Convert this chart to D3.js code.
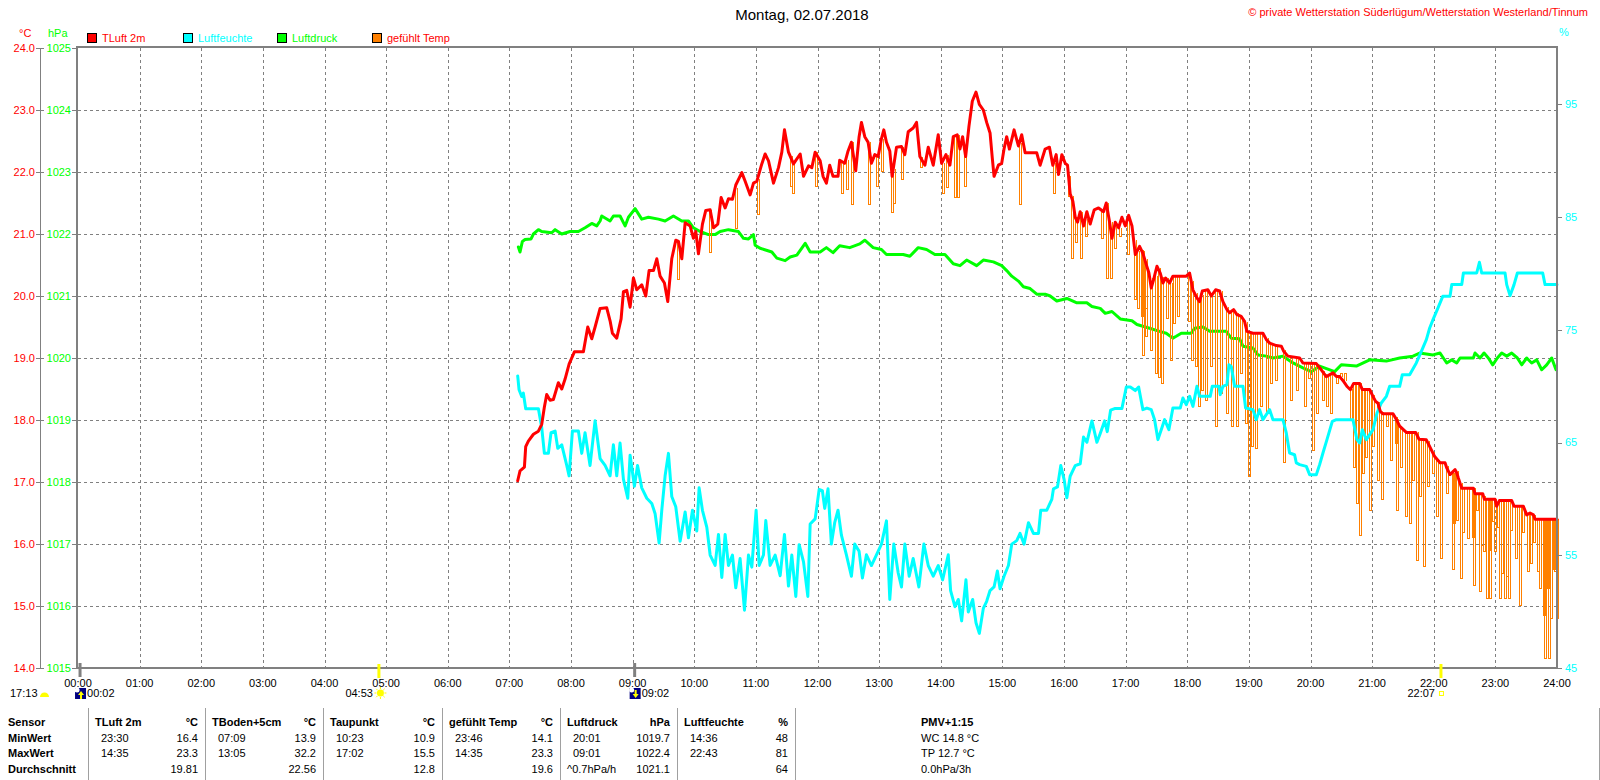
<!DOCTYPE html>
<html>
<head>
  <meta charset="utf-8">
  <script src="https://d3js.org/d3.v7.min.js"></script>
  <style>
    body { margin: 0; background: #fff; }
    svg text { font-family: "Liberation Sans", Arial, sans-serif; font-size: 11px; }
    .grid { stroke: #808080; stroke-width: 1; stroke-dasharray: 3,3; shape-rendering: crispEdges; }
    .frame { stroke: #808080; stroke-width: 2; fill: none; }
    .tick { stroke: #808080; stroke-width: 1; shape-rendering: crispEdges; }
    .sep { stroke: #a0a0a0; stroke-width: 1; shape-rendering: crispEdges; }
    .bold { font-weight: bold; }
    .series { fill: none; stroke-linejoin: round; stroke-linecap: round; }
  </style>
</head>
<body>
<script>
  "use strict";

  // ---- data (time in decimal hours) ----
  var hourLabels = ["00:00","01:00","02:00","03:00","04:00","05:00","06:00","07:00","08:00",
    "09:00","10:00","11:00","12:00","13:00","14:00","15:00","16:00","17:00","18:00",
    "19:00","20:00","21:00","22:00","23:00","24:00"];
  var tempTicks = [14, 15, 16, 17, 18, 19, 20, 21, 22, 23, 24];
  var pressTicks = [1015, 1016, 1017, 1018, 1019, 1020, 1021, 1022, 1023, 1024, 1025];
  var humTicks = [45, 55, 65, 75, 85, 95];

  // TLuft 2m (°C)
  var tLuft = [
    [7.135,17.02],[7.173,17.18],[7.244,17.24],[7.265,17.57],[7.308,17.66],[7.39,17.77],[7.471,17.82],
    [7.525,17.93],[7.568,18.21],[7.606,18.41],[7.66,18.32],[7.714,18.33],[7.795,18.6],[7.85,18.5],
    [7.904,18.66],[7.969,18.9],[8.055,19.1],[8.201,19.1],[8.272,19.5],[8.337,19.31],[8.391,19.5],
    [8.472,19.8],[8.58,19.81],[8.634,19.6],[8.672,19.4],[8.742,19.32],[8.813,19.63],[8.851,20.07],
    [8.905,20.09],[8.959,19.82],[9.013,20.29],[9.067,20.1],[9.148,20.18],[9.213,20.0],[9.267,20.41],
    [9.338,20.41],[9.392,20.6],[9.446,20.32],[9.516,20.21],[9.57,19.91],[9.635,20.6],[9.7,20.9],
    [9.744,20.88],[9.798,20.6],[9.852,21.18],[9.933,21.13],[9.987,20.93],[10.025,21.04],[10.068,20.68],
    [10.133,21.16],[10.187,21.38],[10.258,21.39],[10.312,21.1],[10.382,21.16],[10.436,21.59],[10.501,21.42],
    [10.555,21.57],[10.62,21.56],[10.674,21.79],[10.772,21.99],[10.826,21.85],[10.907,21.63],[10.961,21.82],
    [11.015,21.85],[11.096,22.13],[11.15,22.29],[11.205,22.18],[11.286,21.82],[11.367,22.07],[11.421,22.32],
    [11.464,22.68],[11.529,22.32],[11.61,22.13],[11.719,22.29],[11.773,21.93],[11.854,22.1],[11.908,22.07],
    [11.962,22.32],[12.043,22.18],[12.09,21.93],[12.144,21.82],[12.198,22.11],[12.252,21.93],[12.333,21.93],
    [12.36,22.19],[12.442,22.14],[12.496,22.34],[12.55,22.48],[12.62,22.02],[12.675,22.57],[12.713,22.8],
    [12.767,22.57],[12.821,22.48],[12.875,22.14],[12.93,22.28],[12.984,22.25],[13.038,22.54],[13.076,22.68],
    [13.119,22.48],[13.173,22.34],[13.211,21.93],[13.282,22.4],[13.363,22.41],[13.417,22.28],[13.472,22.65],
    [13.553,22.71],[13.607,22.8],[13.661,22.25],[13.743,22.11],[13.797,22.4],[13.878,22.11],[13.959,22.6],
    [14.014,22.14],[14.084,22.28],[14.149,22.11],[14.203,22.57],[14.268,22.6],[14.312,22.37],[14.355,22.57],
    [14.404,22.25],[14.458,22.74],[14.512,23.14],[14.572,23.29],[14.626,23.09],[14.691,23.0],[14.745,22.8],
    [14.8,22.63],[14.837,22.22],[14.865,21.93],[14.935,22.11],[14.989,22.14],[15.027,22.37],[15.07,22.57],
    [15.114,22.37],[15.19,22.68],[15.26,22.42],[15.314,22.6],[15.369,22.31],[15.45,22.31],[15.558,22.31],
    [15.612,22.11],[15.694,22.37],[15.764,22.4],[15.818,22.11],[15.873,22.28],[15.911,21.96],[15.965,22.28],
    [16.019,22.14],[16.057,22.11],[16.1,21.65],[16.144,21.53],[16.182,21.27],[16.22,21.19],[16.263,21.36],
    [16.317,21.13],[16.371,21.36],[16.425,21.16],[16.49,21.39],[16.561,21.42],[16.642,21.36],[16.686,21.5],
    [16.74,21.19],[16.778,20.93],[16.832,21.19],[16.886,21.1],[16.94,21.27],[16.995,21.13],[17.049,21.3],
    [17.103,21.13],[17.157,20.67],[17.226,20.8],[17.28,20.69],[17.334,20.51],[17.378,20.37],[17.416,20.13],
    [17.453,20.26],[17.508,20.48],[17.562,20.37],[17.605,20.21],[17.648,20.29],[17.713,20.21],[17.767,20.32],
    [17.876,20.32],[17.984,20.32],[18.038,20.37],[18.092,20.1],[18.157,19.97],[18.2,19.91],[18.244,20.08],
    [18.335,20.1],[18.39,20.0],[18.46,20.1],[18.525,20.08],[18.579,19.91],[18.644,19.78],[18.687,19.73],
    [18.752,19.78],[18.806,19.7],[18.877,19.67],[18.93,19.59],[18.969,19.43],[19.066,19.4],[19.228,19.4],
    [19.282,19.3],[19.337,19.24],[19.445,19.2],[19.526,19.19],[19.564,19.11],[19.634,19.03],[19.824,19.0],
    [19.877,18.92],[20.094,18.91],[20.175,18.81],[20.256,18.7],[20.365,18.76],[20.42,18.7],[20.473,18.7],
    [20.539,18.62],[20.593,18.54],[20.647,18.49],[20.7,18.59],[20.798,18.59],[20.841,18.49],[20.96,18.49],
    [21.014,18.38],[21.057,18.3],[21.095,18.27],[21.133,18.14],[21.176,18.1],[21.339,18.1],[21.393,18.01],
    [21.447,17.9],[21.555,17.8],[21.707,17.8],[21.761,17.69],[21.88,17.68],[21.945,17.55],[22.015,17.41],
    [22.102,17.31],[22.183,17.31],[22.21,17.23],[22.264,17.12],[22.346,17.2],[22.373,17.15],[22.4,17.06],
    [22.454,16.9],[22.643,16.9],[22.67,16.81],[22.795,16.81],[22.822,16.72],[22.995,16.72],[23.022,16.61],
    [23.065,16.7],[23.265,16.7],[23.303,16.61],[23.454,16.61],[23.508,16.47],[23.562,16.5],[23.617,16.47],
    [23.644,16.4],[24.0,16.4]
  ];

  // Luftfeuchte (%)
  var luftfeuchte = [
    [7.135,70.91],[7.157,69.69],[7.2,69.08],[7.227,69.38],[7.265,68.0],[7.471,68.0],[7.525,66.33],
    [7.568,64.04],[7.633,64.04],[7.676,65.87],[7.742,66.02],[7.785,64.49],[7.85,64.8],[7.931,62.97],
    [7.969,62.05],[8.023,66.02],[8.12,66.02],[8.174,64.04],[8.228,65.87],[8.309,62.97],[8.391,66.94],
    [8.472,63.58],[8.553,62.97],[8.634,62.05],[8.688,64.8],[8.742,62.05],[8.796,64.95],[8.851,61.74],
    [8.921,60.06],[8.959,63.88],[9.029,61.13],[9.08,62.97],[9.148,60.98],[9.23,60.06],[9.311,59.6],
    [9.365,58.69],[9.43,56.09],[9.473,58.99],[9.527,62.05],[9.581,64.04],[9.635,60.22],[9.7,59.3],
    [9.771,56.24],[9.852,58.84],[9.906,56.55],[9.971,58.99],[10.041,57.16],[10.079,60.98],[10.133,58.99],
    [10.204,57.47],[10.258,55.02],[10.339,54.1],[10.393,56.85],[10.447,53.03],[10.501,56.85],[10.555,54.1],
    [10.62,55.02],[10.674,52.12],[10.744,54.71],[10.815,50.13],[10.88,55.02],[10.934,53.95],[11.004,58.99],
    [11.053,54.1],[11.123,55.02],[11.161,58.08],[11.231,54.1],[11.313,55.02],[11.394,53.19],[11.464,56.85],
    [11.529,52.27],[11.583,55.02],[11.648,51.35],[11.702,55.94],[11.773,54.41],[11.843,51.35],[11.881,57.77],
    [11.962,58.23],[12.027,60.83],[12.079,60.74],[12.117,59.16],[12.171,60.9],[12.225,55.99],[12.279,57.89],
    [12.333,59.0],[12.388,56.78],[12.469,55.04],[12.55,53.14],[12.604,55.99],[12.675,55.35],[12.729,52.98],
    [12.794,55.04],[12.875,54.09],[12.957,55.04],[13.038,55.99],[13.119,58.05],[13.173,51.08],[13.238,55.99],
    [13.309,53.45],[13.363,52.19],[13.417,55.99],[13.488,53.14],[13.553,54.72],[13.645,52.19],[13.726,55.99],
    [13.797,54.09],[13.878,53.14],[13.959,54.09],[14.03,52.82],[14.122,55.04],[14.16,51.87],[14.23,50.44],
    [14.285,51.08],[14.339,49.18],[14.409,52.82],[14.447,49.97],[14.518,51.08],[14.572,49.02],[14.626,48.07],
    [14.691,50.29],[14.745,50.92],[14.8,51.87],[14.865,52.19],[14.919,53.61],[14.962,52.03],[15.027,53.14],
    [15.098,54.09],[15.152,55.99],[15.233,56.3],[15.287,56.94],[15.352,55.99],[15.423,57.89],[15.504,56.94],
    [15.586,56.94],[15.623,59.0],[15.721,59.0],[15.802,59.95],[15.829,60.9],[15.894,61.06],[15.948,62.96],
    [16.003,61.69],[16.046,60.11],[16.1,62.01],[16.182,62.96],[16.263,63.12],[16.317,65.49],[16.371,65.02],
    [16.453,66.92],[16.534,65.02],[16.588,65.81],[16.659,66.92],[16.702,65.97],[16.756,67.87],[16.832,68.03],
    [16.94,68.03],[17.011,69.93],[17.076,69.93],[17.157,69.61],[17.211,69.93],[17.28,67.92],[17.345,68.06],
    [17.416,67.92],[17.47,67.03],[17.524,65.26],[17.578,66.14],[17.632,67.03],[17.702,66.14],[17.767,68.06],
    [17.886,68.06],[17.929,68.95],[17.984,68.36],[18.038,69.1],[18.092,68.21],[18.157,69.99],[18.2,69.1],
    [18.373,69.1],[18.406,69.99],[18.514,69.99],[18.536,69.25],[18.579,69.99],[18.644,70.13],[18.676,71.91],
    [18.714,71.76],[18.768,69.99],[18.904,69.99],[18.947,68.06],[19.066,67.92],[19.12,67.03],[19.174,67.92],
    [19.228,67.03],[19.337,67.92],[19.391,67.03],[19.553,67.03],[19.607,65.85],[19.661,64.07],[19.742,63.92],
    [19.77,63.19],[19.824,63.04],[19.932,62.89],[19.986,62.15],[20.094,62.15],[20.148,63.04],[20.202,64.07],
    [20.267,65.26],[20.354,66.88],[20.419,67.03],[20.689,67.03],[20.754,65.26],[20.798,64.96],[20.841,66.14],
    [20.906,65.26],[21.014,66.14],[21.079,67.62],[21.149,68.51],[21.231,69.1],[21.285,69.99],[21.447,69.99],
    [21.49,71.02],[21.609,71.02],[21.717,72.06],[21.799,73.09],[21.88,74.13],[21.934,75.16],[21.988,75.9],
    [22.069,76.94],[22.146,77.97],[22.264,77.97],[22.292,79.01],[22.454,79.01],[22.481,80.04],[22.697,80.04],
    [22.741,80.99],[22.778,80.04],[23.157,80.04],[23.184,79.01],[23.238,78.03],[23.303,79.01],[23.357,80.04],
    [23.768,80.04],[23.806,79.01],[24.0,79.01]
  ];

  // Luftdruck (hPa)
  var luftdruck = [
    [7.146,1021.79],[7.173,1021.71],[7.211,1021.88],[7.254,1021.91],[7.352,1021.92],[7.39,1022.0],
    [7.471,1022.07],[7.525,1022.04],[7.687,1022.02],[7.742,1022.07],[7.85,1022.0],[7.985,1022.04],
    [8.12,1022.04],[8.228,1022.1],[8.337,1022.17],[8.418,1022.13],[8.472,1022.21],[8.499,1022.29],
    [8.634,1022.21],[8.688,1022.29],[8.796,1022.29],[8.878,1022.13],[8.932,1022.27],[9.04,1022.41],
    [9.148,1022.24],[9.256,1022.27],[9.419,1022.24],[9.527,1022.21],[9.662,1022.29],[9.798,1022.21],
    [9.906,1022.21],[9.987,1022.1],[10.095,1022.04],[10.231,1021.99],[10.339,1021.99],[10.42,1022.04],
    [10.555,1022.07],[10.717,1022.04],[10.799,1021.93],[10.88,1021.92],[10.961,1021.99],[10.988,1021.82],
    [11.069,1021.77],[11.259,1021.71],[11.34,1021.61],[11.475,1021.57],[11.556,1021.63],[11.665,1021.66],
    [11.8,1021.85],[11.881,1021.71],[12.043,1021.71],[12.144,1021.78],[12.252,1021.7],[12.36,1021.81],
    [12.523,1021.78],[12.686,1021.84],[12.767,1021.9],[12.903,1021.78],[13.038,1021.75],[13.119,1021.67],
    [13.39,1021.67],[13.499,1021.64],[13.634,1021.78],[13.77,1021.75],[13.905,1021.67],[14.068,1021.67],
    [14.203,1021.52],[14.312,1021.49],[14.42,1021.58],[14.583,1021.49],[14.691,1021.58],[14.854,1021.55],
    [14.989,1021.49],[15.07,1021.41],[15.152,1021.32],[15.26,1021.24],[15.341,1021.15],[15.45,1021.12],
    [15.558,1021.03],[15.694,1021.03],[15.775,1021.0],[15.883,1020.92],[16.046,1020.96],[16.209,1020.89],
    [16.371,1020.89],[16.453,1020.83],[16.588,1020.8],[16.669,1020.72],[16.778,1020.75],[16.913,1020.63],
    [17.103,1020.6],[17.184,1020.54],[17.389,1020.48],[17.551,1020.43],[17.659,1020.4],[17.767,1020.32],
    [17.821,1020.35],[17.903,1020.4],[18.065,1020.4],[18.119,1020.48],[18.254,1020.5],[18.363,1020.43],
    [18.633,1020.43],[18.714,1020.32],[18.85,1020.31],[18.904,1020.19],[19.066,1020.16],[19.147,1020.05],
    [19.282,1020.03],[19.391,1020.0],[19.553,1020.03],[19.716,1019.92],[19.877,1019.84],[20.013,1019.78],
    [20.148,1019.87],[20.392,1019.78],[20.5,1019.89],[20.744,1019.87],[20.96,1019.97],[21.231,1019.95],
    [21.447,1020.0],[21.663,1020.03],[21.772,1020.08],[21.988,1020.05],[22.102,1020.08],[22.156,1020.0],
    [22.21,1019.92],[22.292,1019.97],[22.373,1019.92],[22.427,1020.0],[22.643,1020.0],[22.67,1020.08],
    [22.751,1020.0],[22.816,1020.08],[22.886,1020.0],[22.957,1019.89],[23.032,1020.0],[23.103,1020.08],
    [23.184,1020.03],[23.265,1020.08],[23.357,1020.0],[23.427,1019.89],[23.508,1020.0],[23.589,1019.92],
    [23.671,1019.97],[23.752,1019.81],[23.833,1019.89],[23.914,1020.0],[23.984,1019.81]
  ];

  // gefühlt Temp: downward dips below TLuft (time, lowest value)
  var gefuehltDips = [
    [9.727,20.28],[10.247,20.71],[10.663,21.1],[11.026,21.33],[11.556,21.77],[11.594,21.66],[11.962,21.77],
    [12.388,21.66],[12.458,21.73],[12.55,21.48],[12.821,21.48],[12.957,21.77],[13.038,22.02],[13.19,21.35],
    [13.228,21.5],[13.363,21.88],[13.661,22.08],[14.014,21.66],[14.084,21.76],[14.22,21.6],[14.268,21.6],
    [14.382,21.77],[15.276,21.48],[15.829,21.66],[16.073,21.62],[16.111,20.61],[16.182,20.87],[16.263,20.61],
    [16.344,20.96],[16.599,20.93],[16.686,20.29],[16.74,20.29],[16.816,20.78],[16.886,20.96],[17.022,20.67],
    [17.13,19.95],[17.184,19.8],[17.253,19.67],[17.266,19.05],[17.307,19.35],[17.32,19.8],[17.39,19.13],
    [17.47,18.76],[17.524,18.7],[17.578,18.6],[17.648,19.65],[17.713,18.97],[17.767,19.56],[17.832,19.67],
    [18.011,19.59],[18.065,18.97],[18.119,18.87],[18.173,18.22],[18.227,18.49],[18.281,18.33],[18.363,18.87],
    [18.444,17.9],[18.525,18.44],[18.622,18.11],[18.714,17.9],[18.785,17.9],[18.85,18.76],[18.931,17.95],
    [18.985,17.09],[19.039,17.58],[19.093,17.55],[19.174,18.22],[19.271,18.11],[19.337,18.6],[19.418,18.65],
    [19.553,17.33],[19.661,18.33],[19.77,18.49],[19.888,18.22],[19.959,18.68],[20.03,17.52],[20.094,18.11],
    [20.192,18.33],[20.256,18.22],[20.321,18.11],[20.419,18.6],[20.473,18.76],[20.538,18.76],[20.635,18.01],
    [20.689,17.25],[20.744,16.66],[20.787,16.15],[20.841,17.15],[20.879,17.41],[20.949,16.55],[21.003,17.58],
    [21.079,17.04],[21.149,16.72],[21.22,17.9],[21.295,17.36],[21.366,17.63],[21.393,16.55],[21.458,17.25],
    [21.528,16.45],[21.598,16.34],[21.652,17.04],[21.707,15.75],[21.761,16.77],[21.826,15.64],[21.89,16.93],
    [21.977,17.15],[22.042,16.45],[22.102,15.77],[22.2,16.82],[22.292,15.59],[22.319,16.34],[22.362,16.39],
    [22.427,15.45],[22.454,16.2],[22.546,16.1],[22.578,16.88],[22.616,16.12],[22.643,15.34],[22.686,16.55],
    [22.74,15.24],[22.767,15.99],[22.805,15.88],[22.843,15.13],[22.875,15.91],[22.902,15.13],[22.94,16.37],
    [22.978,15.88],[23.032,16.28],[23.065,15.13],[23.092,15.53],[23.141,15.13],[23.173,15.48],[23.211,15.13],
    [23.238,16.23],[23.319,15.77],[23.389,15.02],[23.427,16.2],[23.519,15.56],[23.562,15.69],[23.617,16.04],
    [23.671,15.56],[23.714,15.29],[23.779,14.86],[23.79,14.16],[23.833,15.29],[23.86,14.16],[23.887,14.81],
    [23.93,15.59],[23.957,15.56],[23.984,14.81]
  ];

  var legendNames = ["TLuft 2m", "Luftfeuchte", "Luftdruck", "gefühlt Temp"];
  var legendColors = ["#ff0000", "#00ffff", "#00ff00", "#ff8000"];

  // sun / moon events under the time axis
  var sunEvents = [{label: "04:53", t: 4.883, kind: "rise"}, {label: "22:07", t: 22.117, kind: "set"}];
  var moonEvents = [{label: "00:02", t: 0.033, kind: "rise"}, {label: "09:02", t: 9.033, kind: "set"}];
  var dayLength = "17:13";

  // summary table
  var rowLabels = ["Sensor", "MinWert", "MaxWert", "Durchschnitt"];
  var tableSensors = ["TLuft 2m", "TBoden+5cm", "Taupunkt", "gefühlt Temp", "Luftdruck", "Luftfeuchte"];
  var tableUnits = ["°C", "°C", "°C", "°C", "hPa", "%"];
  var minTimes = ["23:30", "07:09", "10:23", "23:46", "20:01", "14:36"];
  var minValues = ["16.4", "13.9", "10.9", "14.1", "1019.7", "48"];
  var maxTimes = ["14:35", "13:05", "17:02", "14:35", "09:01", "22:43"];
  var maxValues = ["23.3", "32.2", "15.5", "23.3", "1022.4", "81"];
  var avgNotes = ["", "", "", "", "^0.7hPa/h", ""];
  var avgValues = ["19.81", "22.56", "12.8", "19.6", "1021.1", "64"];
  var pmvLines = ["PMV+1:15", "WC 14.8 °C", "TP 12.7 °C", "0.0hPa/3h"];

  // ---- layout ----
  var W = 1600, H = 780;
  var plot = {l: 78, r: 1557, t: 48, b: 668};
  var colEdges = [88, 205, 323, 442, 560, 677, 795];
  var rowY = [726, 742, 757, 773];

  var svg = d3.select("body").append("svg")
    .attr("width", W).attr("height", H);

  var x = d3.scaleLinear().domain([0, 24]).range([plot.l, plot.r]);
  var yT = d3.scaleLinear().domain([14, 24]).range([plot.b, plot.t]);
  var yP = d3.scaleLinear().domain([1015, 1025]).range([plot.b, plot.t]);
  var yH = d3.scaleLinear().domain([45, 100]).range([plot.b, plot.t]);

  function crisp(v) { return Math.round(v) + 0.5; }

  // grid
  var grid = svg.append("g");
  hourLabels.slice(1, 24).forEach(function (lab, i) {
    grid.append("line").attr("class", "grid")
      .attr("x1", crisp(x(i + 1))).attr("x2", crisp(x(i + 1)))
      .attr("y1", plot.t).attr("y2", plot.b);
  });
  tempTicks.slice(1, 10).forEach(function (v) {
    grid.append("line").attr("class", "grid")
      .attr("x1", plot.l).attr("x2", plot.r)
      .attr("y1", crisp(yT(v))).attr("y2", crisp(yT(v)));
  });

  // series
  function lineOf(yScale) {
    return d3.line().x(function (d) { return x(d[0]); }).y(function (d) { return yScale(d[1]); });
  }

  // where the TLuft line is drawn at time t (dips of gefühlt Temp hang from it)
  function tLuftAt(t) {
    var i = d3.bisector(function (d) { return d[0]; }).right(tLuft, t);
    if (i <= 0) return tLuft[0][1];
    if (i >= tLuft.length) return tLuft[tLuft.length - 1][1];
    var a = tLuft[i - 1], b = tLuft[i];
    return a[1] + (b[1] - a[1]) * (t - a[0]) / (b[0] - a[0]);
  }

  svg.append("path").datum(luftdruck).attr("class", "series")
    .attr("stroke", "#00ff00").attr("stroke-width", 3).attr("d", lineOf(yP));

  var dipPath = "";
  gefuehltDips.forEach(function (d) {
    var px = Math.round(x(d[0])) + 0.5;
    var top = Math.round(yT(tLuftAt(d[0])));
    var low = Math.round(yT(d[1])) + 0.5;
    dipPath += "M" + px + "," + top + "V" + low + "H" + (px + 2) + "V" + top;
  });
  svg.append("path").attr("d", dipPath).attr("fill", "none")
    .attr("stroke", "#ff8000").attr("stroke-width", 1)
    .style("shape-rendering", "crispEdges");

  svg.append("path").datum(luftfeuchte).attr("class", "series")
    .attr("stroke", "#00ffff").attr("stroke-width", 3).attr("d", lineOf(yH));

  svg.append("path").datum(tLuft).attr("class", "series")
    .attr("stroke", "#ff0000").attr("stroke-width", 3).attr("d", lineOf(yT));

  // frame
  svg.append("rect").attr("class", "frame")
    .attr("x", plot.l - 1).attr("y", plot.t - 1)
    .attr("width", plot.r - plot.l + 1).attr("height", plot.b - plot.t + 1);

  // left axes
  svg.append("line").attr("class", "tick")
    .attr("x1", 40.5).attr("x2", 40.5).attr("y1", plot.t).attr("y2", plot.b);
  tempTicks.forEach(function (v) {
    var yy = crisp(yT(v));
    svg.append("line").attr("class", "tick").attr("x1", 36).attr("x2", 44).attr("y1", yy).attr("y2", yy);
    svg.append("text").attr("x", 35).attr("y", yT(v)).attr("dy", "0.35em")
      .attr("text-anchor", "end").attr("fill", "#ff0000").text(v.toFixed(1));
  });
  pressTicks.forEach(function (v) {
    var yy = crisp(yP(v));
    svg.append("line").attr("class", "tick").attr("x1", 72).attr("x2", 77).attr("y1", yy).attr("y2", yy);
    svg.append("text").attr("x", 71).attr("y", yP(v)).attr("dy", "0.35em")
      .attr("text-anchor", "end").attr("fill", "#00ff00").text(v);
  });
  svg.append("text").attr("x", 19).attr("y", 37).attr("fill", "#ff0000").text("°C");
  svg.append("text").attr("x", 48).attr("y", 37).attr("fill", "#00ff00").text("hPa");

  // right axis
  humTicks.forEach(function (v) {
    var yy = crisp(yH(v));
    svg.append("line").attr("class", "tick").attr("x1", plot.r).attr("x2", plot.r + 5).attr("y1", yy).attr("y2", yy);
    svg.append("text").attr("x", plot.r + 8).attr("y", yH(v)).attr("dy", "0.35em")
      .attr("fill", "#00ffff").text(v);
  });
  svg.append("text").attr("x", plot.r + 2).attr("y", 36).attr("fill", "#00ffff").text("%");

  // time axis labels
  hourLabels.forEach(function (lab, i) {
    svg.append("text").attr("x", x(i)).attr("y", 687)
      .attr("text-anchor", "middle").attr("fill", "#000").text(lab);
  });

  // legend
  var legendX = [87, 183, 277, 372];
  legendNames.forEach(function (name, i) {
    svg.append("rect").attr("x", legendX[i] + 0.5).attr("y", 33.5).attr("width", 9).attr("height", 9)
      .attr("fill", legendColors[i]).attr("stroke", "#000");
    svg.append("text").attr("x", legendX[i] + 15).attr("y", 42)
      .attr("fill", i === 3 ? "#ff0000" : legendColors[i]).text(name);
  });

  // titles
  svg.append("text").attr("x", 802).attr("y", 20).attr("text-anchor", "middle")
    .style("font-size", "15px").attr("fill", "#000").text("Montag, 02.07.2018");
  svg.append("text").attr("x", 1588).attr("y", 16).attr("text-anchor", "end")
    .attr("fill", "#ff0000").text("© private Wetterstation Süderlügum/Wetterstation Westerland/Tinnum");

  // sun and moon markers
  var evY = 697;
  sunEvents.forEach(function (e) {
    var ex = x(e.t);
    svg.append("line").attr("x1", ex).attr("x2", ex).attr("y1", 664).attr("y2", 678)
      .attr("stroke", "#ffff00").attr("stroke-width", 3);
    svg.append("text").attr("x", ex - 6).attr("y", evY).attr("text-anchor", "end").text(e.label);
    if (e.kind === "rise") {
      var cx = ex + 1.5, cy = 693;
      svg.append("circle").attr("cx", cx).attr("cy", cy).attr("r", 3.5).attr("fill", "#ffff00");
      d3.range(8).forEach(function (k) {
        var a = k * Math.PI / 4;
        svg.append("line").attr("stroke", "#ffff00").attr("stroke-width", 1)
          .attr("x1", cx + Math.cos(a) * 4).attr("y1", cy + Math.sin(a) * 4)
          .attr("x2", cx + Math.cos(a) * 6).attr("y2", cy + Math.sin(a) * 6);
      });
    } else {
      svg.append("rect").attr("x", ex - 1.5).attr("y", 691.5).attr("width", 4).attr("height", 4)
        .attr("fill", "none").attr("stroke", "#ffff00");
    }
  });
  moonEvents.forEach(function (e) {
    var ex = x(e.t);
    svg.append("line").attr("x1", ex).attr("x2", ex).attr("y1", 663).attr("y2", 677)
      .attr("stroke", "#808080").attr("stroke-width", 3);
    svg.append("rect").attr("x", ex - 5).attr("y", 688).attr("width", 11).attr("height", 11).attr("fill", "#000080");
    svg.append("circle").attr("cx", ex - 3).attr("cy", 690).attr("r", 2.5).attr("fill", "#fff");
    var arrow = e.kind === "rise"
      ? "M" + (ex + 1) + ",691 l-3,4 h2 v4 h2 v-4 h2 z"
      : "M" + (ex + 1) + ",698 l-3,-4 h2 v-4 h2 v4 h2 z";
    svg.append("path").attr("d", arrow).attr("fill", "#ffff00");
    svg.append("text").attr("x", ex + 7).attr("y", evY).text(e.label);
  });
  svg.append("text").attr("x", 10).attr("y", evY).text(dayLength);
  svg.append("path").attr("d", "M40,697 A4.5,4.5 0 0 1 49,697 Z").attr("fill", "#ffff00");

  // summary table
  colEdges.concat([1599]).forEach(function (cx) {
    svg.append("line").attr("class", "sep")
      .attr("x1", cx + 0.5).attr("x2", cx + 0.5).attr("y1", 708).attr("y2", H);
  });
  rowLabels.forEach(function (lab, r) {
    svg.append("text").attr("class", "bold").attr("x", 8).attr("y", rowY[r]).text(lab);
  });
  tableSensors.forEach(function (name, c) {
    var left = colEdges[c], right = colEdges[c + 1] - 7;
    svg.append("text").attr("class", "bold").attr("x", left + 7).attr("y", rowY[0]).text(name);
    svg.append("text").attr("class", "bold").attr("x", right).attr("y", rowY[0])
      .attr("text-anchor", "end").text(tableUnits[c]);
    svg.append("text").attr("x", left + 13).attr("y", rowY[1]).text(minTimes[c]);
    svg.append("text").attr("x", right).attr("y", rowY[1]).attr("text-anchor", "end").text(minValues[c]);
    svg.append("text").attr("x", left + 13).attr("y", rowY[2]).text(maxTimes[c]);
    svg.append("text").attr("x", right).attr("y", rowY[2]).attr("text-anchor", "end").text(maxValues[c]);
    if (avgNotes[c]) svg.append("text").attr("x", left + 7).attr("y", rowY[3]).text(avgNotes[c]);
    svg.append("text").attr("x", right).attr("y", rowY[3]).attr("text-anchor", "end").text(avgValues[c]);
  });
  pmvLines.forEach(function (lab, r) {
    svg.append("text").attr("class", r === 0 ? "bold" : null)
      .attr("x", 921).attr("y", rowY[r]).text(lab);
  });
</script>
</body>
</html>
